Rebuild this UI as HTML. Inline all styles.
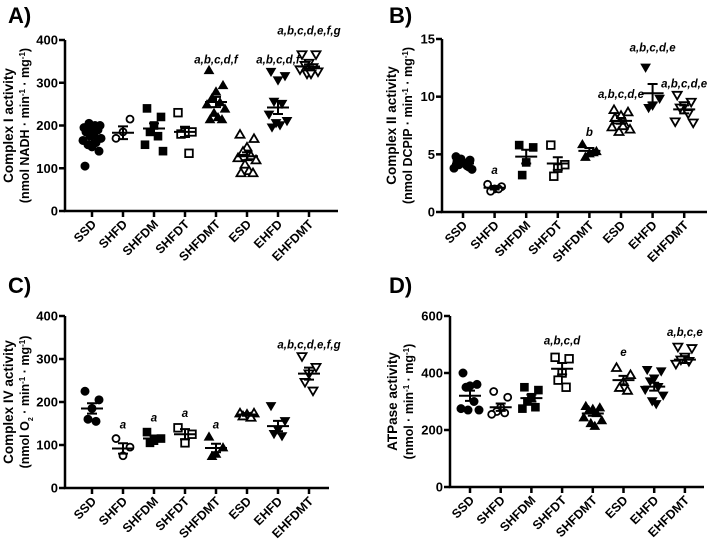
<!DOCTYPE html>
<html><head><meta charset="utf-8"><style>
html,body{margin:0;padding:0;background:#fff;}
svg{display:block;font-family:"Liberation Sans",Arial,sans-serif;}
</style></head><body>
<svg id="fig" width="727" height="541" viewBox="0 0 727 541" xmlns="http://www.w3.org/2000/svg"></svg>
<script>
const categories=["SSD","SHFD","SHFDM","SHFDT","SHFDMT","ESD","EHFD","EHFDMT"];
const markers=["circle","circle-open","square","square-open","tri","tri-open","tridown","tridown-open"];
// Panel A
const aValues=[[105,140,150,155,160,165,170,175,180,185,190,195,200,205,200,195],[170,215,185],[240,220,200,185,175,155,140],[230,185,185,180,135],[330,295,280,265,255,250,240,230,220,215,215],[180,170,150,140,130,125,120,110,95,90,90],[325,315,305,255,250,225,210,205,200,195],[365,365,345,340,335,330,325,320,320]];
const aMeans=[170,183,193,185,255,128,242,338];
const aSem=[8,15,12,12,12,9,15,5];
const aLabels=["","","","","a,b,c,d,f","","a,b,c,d,f","a,b,c,d,e,f,g"];
const aLabelVals=[0,0,0,0,345,0,345,413];
const aTicks=[0,100,200,300,400];
// Panel B
const bValues=[[4.8,4.5,4.3,4.1,4.0,3.8,3.7,4.6,4.2,4.4,3.9],[2.4,2.2,2.0,1.8,2.0],[5.8,5.6,4.3,3.2],[5.8,4.1,3.8,3.1],[5.9,5.3,5.1,4.8,5.2],[8.9,8.7,8.4,8.0,7.6,7.4,7.2,7.0,7.5,8.2],[12.5,9.8,9.2,9.0],[10.1,9.5,9.2,9.0,8.5,7.8,7.7]];
const bMeans=[4.2,2.1,4.8,4.2,5.3,7.9,10.3,8.9];
const bSem=[0.15,0.15,0.6,0.55,0.25,0.25,0.8,0.35];
const bLabels=["","a","","","b","a,b,c,d,e","a,b,c,d,e","a,b,c,d,e"];
const bLabelVals=[0,3.3,0,0,6.6,9.9,13.9,10.8];
const bTicks=[0,5,10,15];
// Panel C
const cValues=[[225,205,185,160,155],[115,95,75],[130,115,110,105],[140,125,105],[120,95,80,75],[175,175,172,168,165],[190,155,135,125,120],[305,280,265,245,225]];
const cMeans=[185,92,115,125,93,171,144,266];
const cSem=[12,12,7,12,10,3,12,14];
const cLabels=["","a","a","a","a","","","a,b,c,d,e,f,g"];
const cLabelVals=[0,138,155,165,138,0,0,325];
const cTicks=[0,100,200,300,400];
// Panel D
const dValues=[[400,360,355,350,300,275,270,270],[335,315,280,265,260,255],[350,340,315,300,280,275],[455,450,400,375,350],[285,280,275,270,260,245,235,225,215],[420,395,370,350,340],[410,405,380,370,350,340,320,300,290],[490,485,455,445,440,430]];
const dMeans=[320,280,312,415,258,375,352,447];
const dSem=[18,13,12,20,8,15,14,12];
const dLabels=["","","","a,b,c,d","","e","","a,b,c,e"];
const dLabelVals=[0,0,0,500,0,460,0,530];
const dTicks=[0,200,400,600];

const JIT=[-7,7,0,-4,4,-9,9,-2,2,-6,6,-8,8,-3,3,0];
const NS="http://www.w3.org/2000/svg";
const svg=document.getElementById('fig');
function mk(tag,attrs,parent){const e=document.createElementNS(NS,tag);for(const k in attrs)e.setAttribute(k,attrs[k]);(parent||svg).appendChild(e);return e;}

function panel(cfg){
  const g=mk('g',{});
  
  
  const ymax=cfg.ticks[cfg.ticks.length-1];
  const y=v=>cfg.y0-(v/ymax)*(cfg.y0-cfg.yTop);
  const x=i=>cfg.x0c+i*cfg.step;
  const L=mk('text',{x:cfg.lx,y:cfg.ly,'font-size':22,'font-weight':'bold'},g);L.textContent=cfg.letter;
  
  
  const ax=mk('path',{d:`M${cfg.ax},${cfg.yTop} L${cfg.ax},${cfg.y0} L${cfg.xEnd},${cfg.y0}`,stroke:'#000','stroke-width':2.5,fill:'none'},g);
  
  
  cfg.ticks.forEach(t=>{
    mk('line',{x1:cfg.ax-6,x2:cfg.ax,y1:y(t),y2:y(t),stroke:'#000','stroke-width':2.5},g);
    const tt=mk('text',{x:cfg.ax-7,y:y(t)+4.5,'font-size':13,'font-weight':'bold','text-anchor':'end'},g);tt.textContent=t;
    
    
  });
  categories.forEach((c,i)=>{
    mk('line',{x1:x(i),x2:x(i),y1:cfg.y0,y2:cfg.y0+6,stroke:'#000','stroke-width':2.5},g);
    const ct=mk('text',{transform:`translate(${x(i)+5},${cfg.y0+14}) rotate(-45)`,'font-size':12.5,'font-weight':'bold','text-anchor':'end'},g);ct.textContent=c;
    
    
  });
  const t1=mk('text',{transform:`translate(${cfg.tx},${(cfg.yTop+cfg.y0)/2}) rotate(-90)`,'font-size':13.5,'font-weight':'bold','text-anchor':'middle'},g);
  t1.textContent=cfg.title1;
  
  
  const t2=mk('text',{transform:`translate(${cfg.tx+16},${(cfg.yTop+cfg.y0)/2}) rotate(-90)`,'font-size':12.5,'font-weight':'bold','text-anchor':'middle'},g);
  t2.innerHTML=cfg.title2;
  
  
  cfg.values.forEach((arr,i)=>{
    const m=markers[i];const open=m.endsWith('open');
    arr.forEach((v,j)=>{
      const cx=x(i)+JIT[j%JIT.length], cy=y(v);
      const st={fill:open?'#fff':'#000',stroke:'#000','stroke-width':open?1.8:1};
      let p;
      if(m.startsWith('circle')) p=mk('circle',Object.assign({cx,cy,r:open?3.5:4},st),g);
      else if(m.startsWith('square')) p=mk('rect',Object.assign({x:cx-3.8,y:cy-3.8,width:7.6,height:7.6},st),g);
      else if(m.startsWith('tridown')) p=mk('path',Object.assign({d:`M${cx-4.5},${cy-3.7}L${cx+4.5},${cy-3.7}L${cx},${cy+4}Z`},st),g);
      else p=mk('path',Object.assign({d:`M${cx-4.5},${cy+3.7}L${cx+4.5},${cy+3.7}L${cx},${cy-4}Z`},st),g);
      
      
    });
    const my=y(cfg.means[i]),hi=y(cfg.means[i]+cfg.sem[i]),lo=y(cfg.means[i]-cfg.sem[i]);
    const eb=mk('path',{d:`M${x(i)-11},${my}H${x(i)+11}M${x(i)},${hi}V${lo}M${x(i)-5},${hi}H${x(i)+5}M${x(i)-5},${lo}H${x(i)+5}`,stroke:'#000','stroke-width':2,fill:'none'},g);
    
    
    if(cfg.labels[i]){
      const lt=mk('text',{x:x(i),y:y(cfg.labelVals[i]),'font-size':11.5,'font-weight':'bold','font-style':'italic','text-anchor':'middle'},g);
      lt.textContent=cfg.labels[i];
      
      
    }
  });
}
const t2base=(s)=>`(nmol ${s} · min<tspan baseline-shift="super" font-size="8">-1</tspan> · mg<tspan baseline-shift="super" font-size="8">-1</tspan>)`;
panel({id:'a',letter:'A)',lx:8,ly:23,ax:65,yTop:40,y0:211,xEnd:338,x0c:92,step:31,tx:13,title1:'Complex I activity',title2:t2base('NADH'),values:aValues,means:aMeans,sem:aSem,labels:aLabels,labelVals:aLabelVals,ticks:aTicks});
panel({id:'b',letter:'B)',lx:389,ly:23,ax:442,yTop:39,y0:212,xEnd:707,x0c:463,step:31.6,tx:396,title1:'Complex II activity',title2:t2base('DCPIP'),values:bValues,means:bMeans,sem:bSem,labels:bLabels,labelVals:bLabelVals,ticks:bTicks});
panel({id:'c',letter:'C)',lx:8,ly:293,ax:65,yTop:316,y0:488,xEnd:329,x0c:92,step:31,tx:13,title1:'Complex IV activity',title2:t2base('O<tspan baseline-shift="sub" font-size="7">2</tspan>'),values:cValues,means:cMeans,sem:cSem,labels:cLabels,labelVals:cLabelVals,ticks:cTicks});
panel({id:'d',letter:'D)',lx:389,ly:293,ax:450,yTop:316,y0:487,xEnd:704,x0c:470,step:30.7,tx:397,title1:'ATPase activity',title2:`(nmol · min<tspan baseline-shift="super" font-size="8">-1</tspan> · mg<tspan baseline-shift="super" font-size="8">-1</tspan>)`,values:dValues,means:dMeans,sem:dSem,labels:dLabels,labelVals:dLabelVals,ticks:dTicks});
</script>
</body></html>
